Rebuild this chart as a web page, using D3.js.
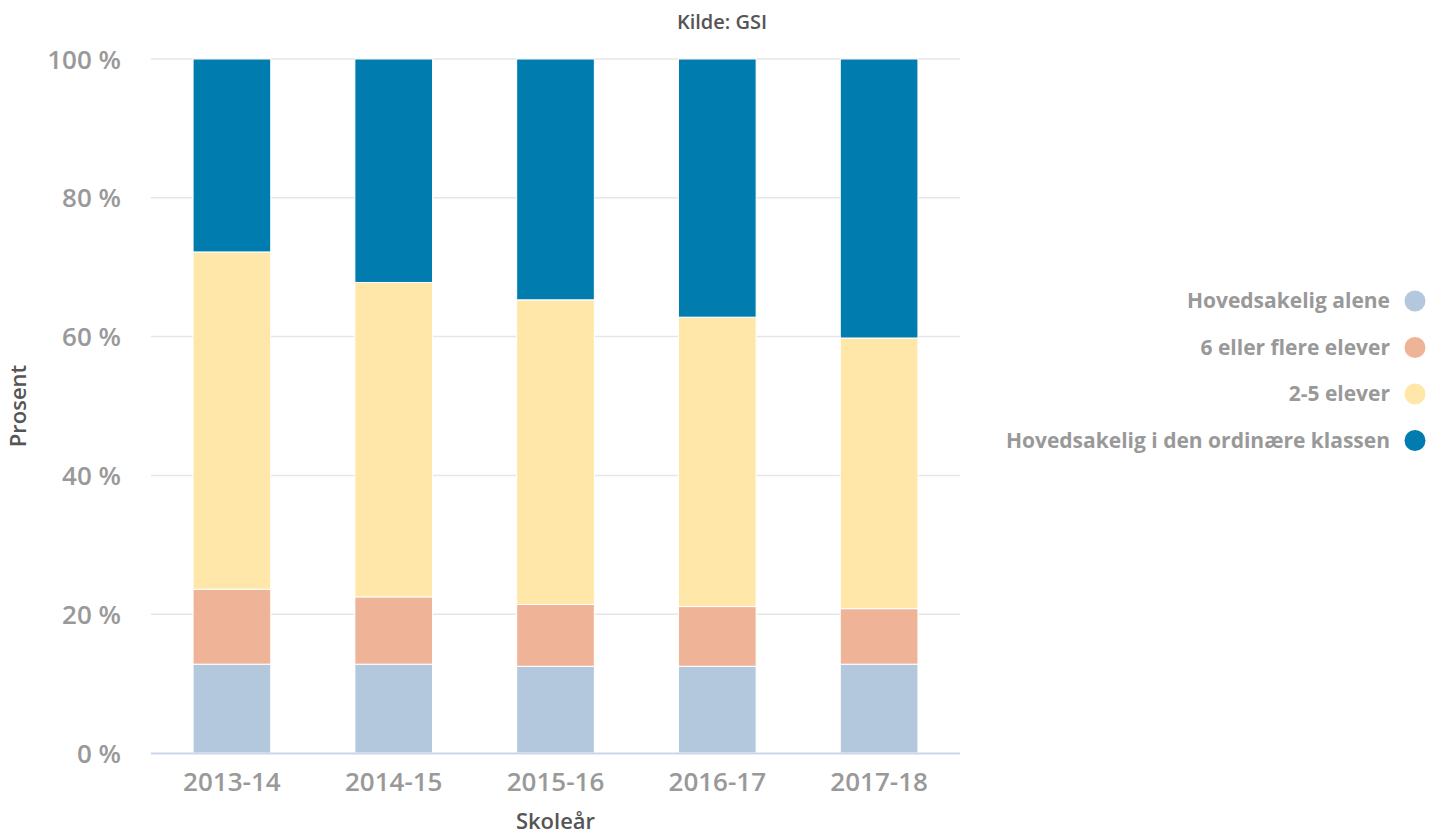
<!DOCTYPE html>
<html>
<head>
<meta charset="utf-8">
<script src="https://cdn.jsdelivr.net/npm/d3@7"></script>
<style>
  html, body { margin: 0; padding: 0; background: #fff; }
  svg { display: block; font-family: "Open Sans", "DejaVu Sans", sans-serif; }
</style>
</head>
<body>
<svg id="chart" width="1447" height="834"></svg>
<script>
// School years on the x axis
const years = ["2013-14", "2014-15", "2015-16", "2016-17", "2017-18"];

// Share of pupils (%) by group size, per school year
const alene = [12.8, 12.8, 12.5, 12.5, 12.8];
const seksEllerFlere = [10.8, 9.7, 8.9, 8.6, 8.0];
const toFem = [48.6, 45.3, 43.9, 41.7, 39.0];
const ordinaer = [27.8, 32.2, 34.7, 37.2, 40.2];

const seriesNames = ["Hovedsakelig alene", "6 eller flere elever", "2-5 elever", "Hovedsakelig i den ordinære klassen"];
const seriesColors = ["#b3c8dc", "#efb497", "#fee7a8", "#007dae"];
const yTicks = [0, 20, 40, 60, 80, 100];

const svg = d3.select("#chart");
const margin = { left: 151, right: 487, top: 59, bottom: 81 };
const W = 1447, H = 834;

const x = d3.scaleBand().domain(years).range([margin.left, W - margin.right]).paddingInner(0.52).paddingOuter(0.26);
const y = d3.scaleLinear().domain([0, 100]).range([H - margin.bottom, margin.top]);

// Gridlines
svg.append("g")
  .selectAll("line")
  .data(yTicks.filter(d => d > 0))
  .join("line")
  .attr("x1", margin.left).attr("x2", W - margin.right)
  .attr("y1", d => y(d)).attr("y2", d => y(d))
  .attr("stroke", "#e6e6e6").attr("stroke-width", 1.5);

// Stack data
const rows = years.map((yr, i) => ({
  year: yr,
  s0: alene[i], s1: seksEllerFlere[i], s2: toFem[i], s3: ordinaer[i]
}));
const stack = d3.stack().keys(["s0", "s1", "s2", "s3"]);
const stacked = stack(rows);

svg.append("g")
  .selectAll("g")
  .data(stacked)
  .join("g")
  .attr("fill", (d, i) => seriesColors[i])
  .selectAll("rect")
  .data(d => d)
  .join("rect")
  .attr("x", d => x(d.data.year))
  .attr("width", x.bandwidth())
  .attr("y", d => y(d[1]))
  .attr("height", d => y(d[0]) - y(d[1]))
  .attr("stroke", "#ffffff").attr("stroke-width", 1);

// X axis line
svg.append("line")
  .attr("x1", margin.left).attr("x2", W - margin.right)
  .attr("y1", y(0) + 0.5).attr("y2", y(0) + 0.5)
  .attr("stroke", "#ccd6eb").attr("stroke-width", 2);

// Y tick labels
const yAxis = d3.axisLeft(y).tickValues(yTicks).tickFormat(d => d + " %").tickSize(0).tickPadding(0);
const gy = svg.append("g").attr("transform", `translate(${margin.left - 30},0)`).call(yAxis);
gy.select(".domain").remove();
gy.selectAll("text")
  .attr("fill", "#999999").attr("font-size", 26).attr("font-weight", 600).attr("dy", "0.35em")
  .style("font-family", '"Open Sans", sans-serif');

// X tick labels
const xAxis = d3.axisBottom(x).tickSize(0).tickPadding(0);
const gx = svg.append("g").attr("transform", `translate(0,${y(0) + 38})`).call(xAxis);
gx.select(".domain").remove();
gx.selectAll("text")
  .attr("fill", "#999999").attr("font-size", 26).attr("font-weight", 600).attr("dy", "0")
  .style("font-family", '"Open Sans", sans-serif');

// Axis titles
svg.append("text")
  .attr("x", (margin.left + W - margin.right) / 2).attr("y", 829)
  .attr("text-anchor", "middle").attr("fill", "#555555").attr("font-size", 22).attr("font-weight", 600)
  .text("Skoleår");

svg.append("text")
  .attr("transform", `translate(26,${(margin.top + H - margin.bottom) / 2}) rotate(-90)`)
  .attr("text-anchor", "middle").attr("fill", "#555555").attr("font-size", 22).attr("font-weight", 600)
  .text("Prosent");

// Source caption
svg.append("text")
  .attr("x", 722).attr("y", 29)
  .attr("text-anchor", "middle").attr("fill", "#555555").attr("font-size", 20).attr("font-weight", 600)
  .text("Kilde: GSI");

// Legend
const legend = svg.append("g")
  .selectAll("g")
  .data(seriesNames)
  .join("g")
  .attr("transform", (d, i) => `translate(0,${301 + i * 46.5})`);
legend.append("text")
  .attr("x", 1390).attr("y", 0).attr("dy", "0.35em")
  .attr("text-anchor", "end").attr("fill", "#999999")
  .attr("font-size", 21).attr("font-weight", "bold")
  .text(d => d);
legend.append("circle")
  .attr("cx", 1415).attr("cy", 0).attr("r", 10.5)
  .attr("fill", (d, i) => seriesColors[i]);
</script>
</body>
</html>
